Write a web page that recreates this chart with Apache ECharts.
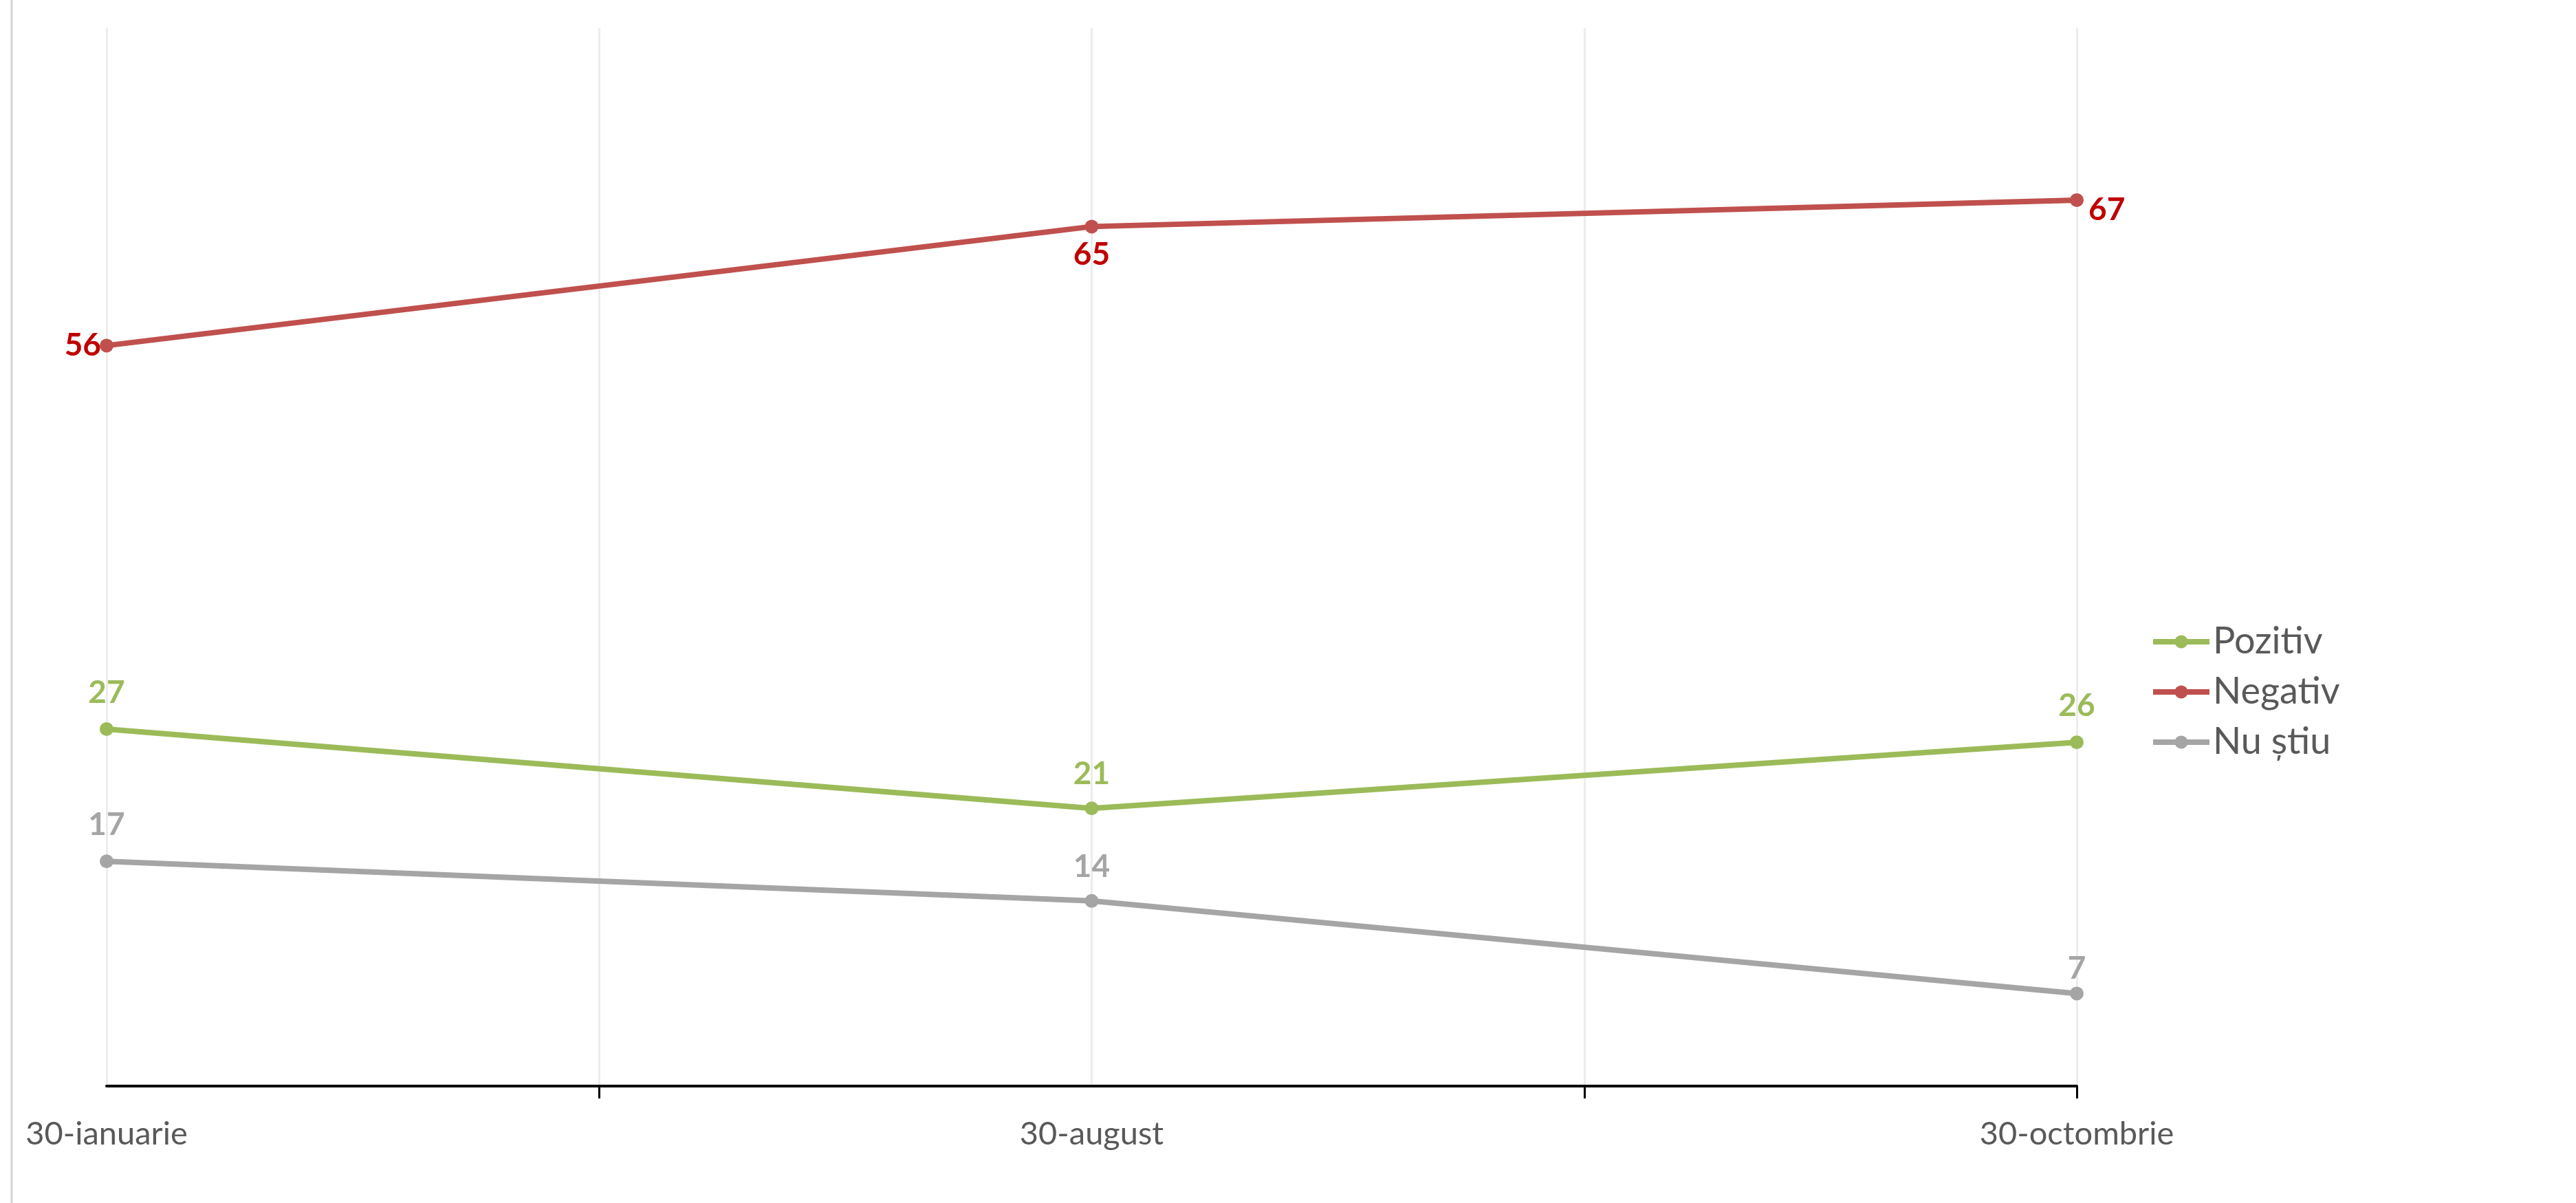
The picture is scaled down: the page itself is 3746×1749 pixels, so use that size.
<!DOCTYPE html>
<html>
<head>
<meta charset="utf-8">
<script src="https://cdn.jsdelivr.net/npm/echarts@6/dist/echarts.min.js"></script>
<style>
html,body{margin:0;padding:0;background:#fff;}
#chart{width:3746px;height:1749px;}
</style>
</head>
<body>
<div id="chart"></div>
<script>
const categories = ['30-ianuarie', '', '30-august', '', '30-octombrie'];
const seriesNames = ['Pozitiv', 'Negativ', 'Nu știu'];
const pozitiv = [27, null, 21, null, 26];
const negativ = [56, null, 65, null, 67];
const nuStiu = [17, null, 14, null, 7];

const lineColors = ['#9BBB59', '#C0504D', '#A5A5A5'];
const labelColors = ['#9BBB59', '#C00000', '#A5A5A5'];

const negLabelCfg = [
  {position: 'left', distance: -2},
  null,
  {position: 'bottom', distance: 8},
  null,
  {position: 'right', distance: 7, offset: [0, 14]}
];
const topDist = {
  0: [20, null, 17, null, 20],
  2: [20, null, 17, null, 3]
};

function buildData(vals, si) {
  return vals.map((v, i) => {
    if (v == null) return null;
    let label;
    if (si === 1) label = negLabelCfg[i];
    else label = {position: 'top', distance: topDist[si][i]};
    return {value: v, label: label};
  });
}

const allVals = [pozitiv, negativ, nuStiu];
const series = allVals.map((vals, si) => ({
  name: seriesNames[si],
  type: 'line',
  data: buildData(vals, si),
  connectNulls: true,
  symbol: 'circle',
  symbolSize: 20,
  lineStyle: {width: 8, color: lineColors[si]},
  itemStyle: {color: lineColors[si]},
  label: {
    show: true,
    color: labelColors[si],
    fontFamily: 'Lato',
    fontWeight: 'bold',
    fontSize: 46
  },
  emphasis: {disabled: true},
  animation: false
}));

const chart = echarts.init(document.getElementById('chart'), null, {renderer: 'canvas'});
chart.setOption({
  backgroundColor: '#ffffff',
  animation: false,
  grid: {left: 155, right: 726, top: 41, bottom: 170, containLabel: false},
  graphic: [{
    type: 'line',
    shape: {x1: 17, y1: 0, x2: 17, y2: 1749},
    style: {stroke: '#d4d4d4', lineWidth: 3}
  }],
  legend: {
    orient: 'vertical',
    left: 3122,
    top: 901,
    itemWidth: 82,
    itemHeight: 24,
    itemGap: 19,
    lineStyle: {width: 8},
    itemStyle: {borderWidth: 0},
    textStyle: {fontFamily: 'Lato', fontSize: 54, color: '#595959', padding: [0, 0, 0, 0]},
    data: seriesNames
  },
  xAxis: {
    type: 'category',
    data: categories,
    boundaryGap: false,
    axisLine: {lineStyle: {color: '#000000', width: 4}},
    axisTick: {
      show: true,
      length: 18,
      lineStyle: {color: '#000000', width: 3},
      interval: function (idx) { return idx === 1 || idx === 3 || idx === 4; }
    },
    axisLabel: {
      interval: 0,
      margin: 46,
      fontFamily: 'Lato',
      fontSize: 47,
      color: '#595959'
    },
    splitLine: {show: true, interval: 0, lineStyle: {color: '#ececec', width: 3}}
  },
  yAxis: {
    type: 'value',
    min: 0,
    max: 80,
    interval: 10,
    show: true,
    axisLine: {show: false},
    axisTick: {show: false},
    axisLabel: {show: false},
    splitLine: {show: false}
  },
  series: series
});
</script>
</body>
</html>
